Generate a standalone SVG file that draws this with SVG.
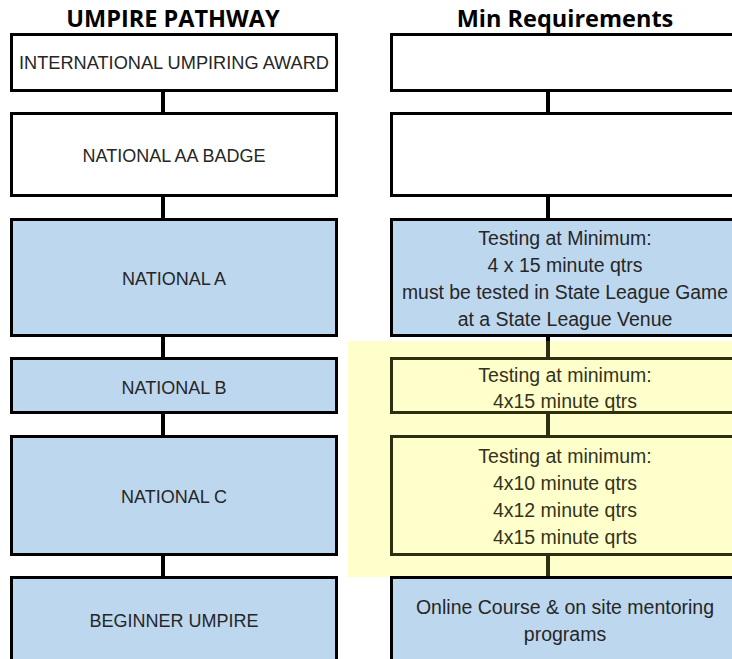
<svg xmlns="http://www.w3.org/2000/svg" width="732" height="659" viewBox="0 0 732 659">
<style>
.box{stroke:#000;stroke-width:3}
.w{fill:#fff}
.b{fill:#bdd7ee}
.y{fill:none;stroke:#2e2e10}
.t{font-family:"Liberation Sans",Arial,sans-serif;font-size:18px;fill:#262626;text-anchor:middle;dominant-baseline:central}
.r{font-size:19.5px}
.ty{fill:#33331a}
.h{font-family:"Open Sans","Liberation Sans",sans-serif;font-size:23.5px;font-weight:bold;fill:#000;text-anchor:middle}
.c{stroke:#000;stroke-width:4;fill:none}
.cy{stroke:#2e2e10}
</style>
<rect x="0" y="0" width="732" height="659" fill="#fff"/>
<rect id="highlight" x="348" y="341" width="384" height="236" fill="#ffffcc"/>
<text class="h" x="173" y="27">UMPIRE PATHWAY</text>
<text class="h" x="565" y="27">Min Requirements</text>
<g id="connectors">
<line class="c" x1="163" y1="90" x2="163" y2="113"/>
<line class="c" x1="163" y1="195" x2="163" y2="219"/>
<line class="c" x1="163" y1="335" x2="163" y2="358"/>
<line class="c" x1="163" y1="412" x2="163" y2="436"/>
<line class="c" x1="163" y1="554" x2="163" y2="577"/>
<line class="c" x1="548" y1="90" x2="548" y2="113"/>
<line class="c" x1="548" y1="195" x2="548" y2="219"/>
<line class="c" x1="548" y1="335" x2="548" y2="341"/>
<line class="c cy" x1="548" y1="341" x2="548" y2="358"/>
<line class="c cy" x1="548" y1="412" x2="548" y2="436"/>
<line class="c cy" x1="548" y1="554" x2="548" y2="577"/>
</g>
<g id="intl">
<rect class="box w" x="11.5" y="34.5" width="325" height="56"/>
<text class="t" x="174" y="63" textLength="310" lengthAdjust="spacingAndGlyphs">INTERNATIONAL UMPIRING AWARD</text>
</g>
<g id="aa">
<rect class="box w" x="11.5" y="113.5" width="325" height="82"/>
<text class="t" x="174" y="156">NATIONAL AA BADGE</text>
</g>
<g id="natA">
<rect class="box b" x="11.5" y="219.5" width="325" height="116"/>
<text class="t" x="174" y="279">NATIONAL A</text>
</g>
<g id="natB">
<rect class="box b" x="11.5" y="358.5" width="325" height="54"/>
<text class="t" x="174" y="388">NATIONAL B</text>
</g>
<g id="natC">
<rect class="box b" x="11.5" y="436.5" width="325" height="118"/>
<text class="t" x="174" y="497">NATIONAL C</text>
</g>
<g id="beginner">
<rect class="box b" x="11.5" y="577.5" width="325" height="90"/>
<text class="t" x="174" y="621">BEGINNER UMPIRE</text>
</g>
<g id="req-intl">
<rect class="box w" x="391.5" y="34.5" width="350" height="56"/>
</g>
<g id="req-aa">
<rect class="box w" x="391.5" y="113.5" width="350" height="82"/>
</g>
<g id="req-a">
<rect class="box b" x="391.5" y="219.5" width="350" height="116"/>
<text class="t r" x="565" y="238">Testing at Minimum:</text>
<text class="t r" x="565" y="265">4 x 15 minute qtrs</text>
<text class="t r" x="565" y="292" textLength="326" lengthAdjust="spacingAndGlyphs">must be tested in State League Game</text>
<text class="t r" x="565" y="319">at a State League Venue</text>
</g>
<g id="req-b">
<rect class="box y" x="391.5" y="358.5" width="350" height="54"/>
<text class="t r ty" x="565" y="375">Testing at minimum:</text>
<text class="t r ty" x="565" y="401">4x15 minute qtrs</text>
</g>
<g id="req-c">
<rect class="box y" x="391.5" y="436.5" width="350" height="118"/>
<text class="t r ty" x="565" y="456">Testing at minimum:</text>
<text class="t r ty" x="565" y="483">4x10 minute qtrs</text>
<text class="t r ty" x="565" y="510">4x12 minute qtrs</text>
<text class="t r ty" x="565" y="537">4x15 minute qrts</text>
</g>
<g id="req-beginner">
<rect class="box b" x="391.5" y="577.5" width="350" height="90"/>
<text class="t r" x="565" y="607">Online Course &amp; on site mentoring</text>
<text class="t r" x="565" y="634">programs</text>
</g>
</svg>
